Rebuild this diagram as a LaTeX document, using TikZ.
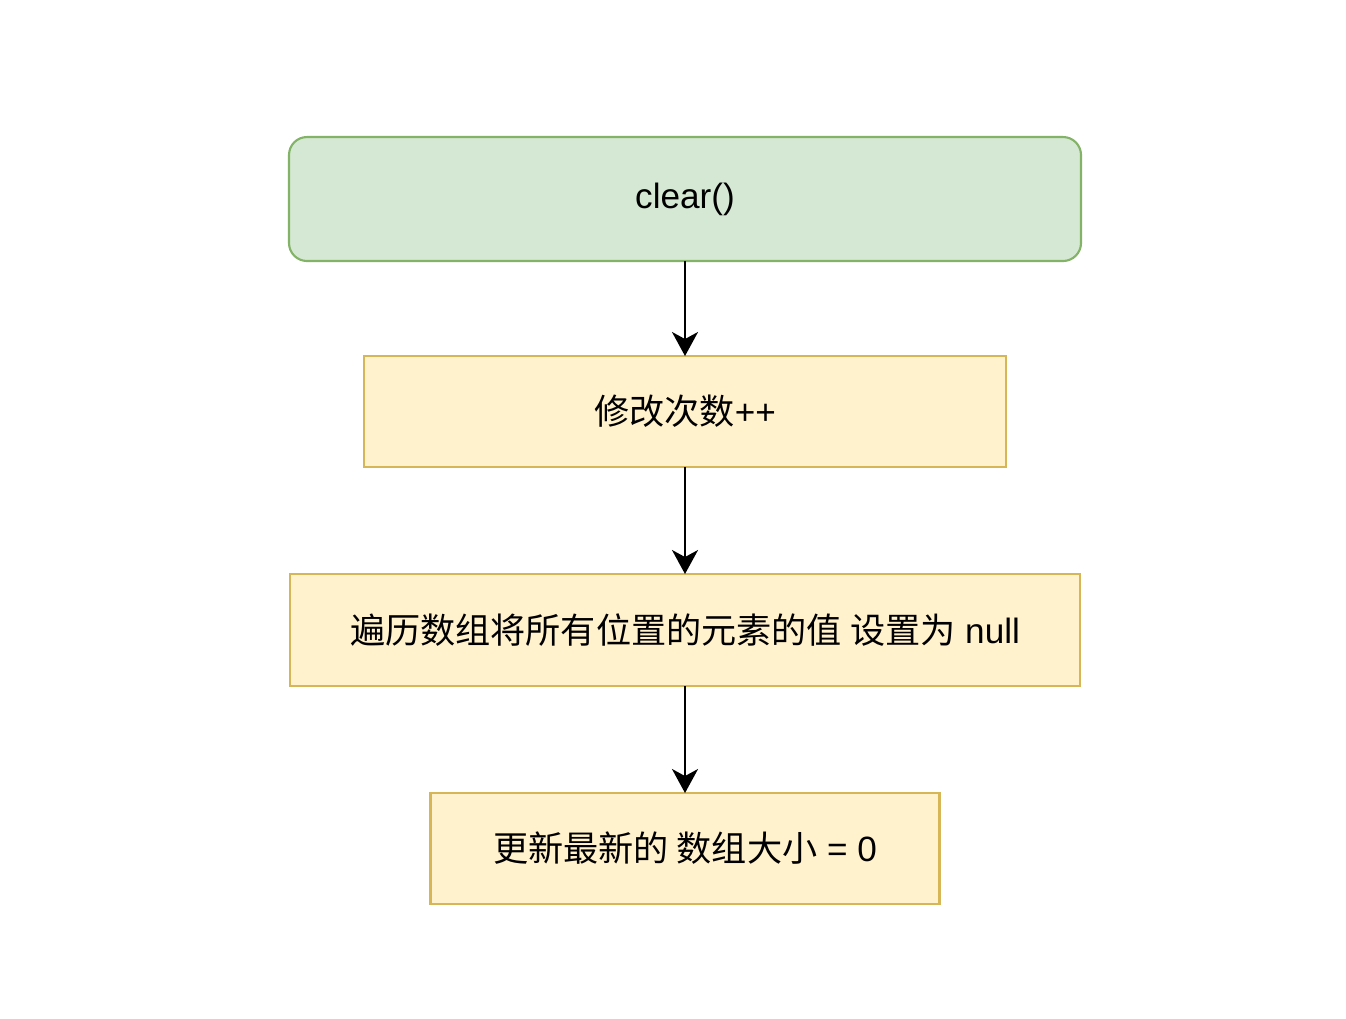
\documentclass[tikz,border=0pt]{standalone}
\usepackage{fontspec}
\setmainfont{Liberation Sans}
\newfontfamily\cjk{Noto Sans CJK SC}
\usetikzlibrary{positioning,arrows.meta}
\definecolor{greenfill}{HTML}{D5E8D4}
\definecolor{greenline}{HTML}{82B366}
\definecolor{yellowfill}{HTML}{FFF2CC}
\definecolor{yellowline}{HTML}{D6B656}
\begin{document}
\begin{tikzpicture}[box/.style={draw=yellowline, fill=yellowfill, line width=0.6pt, outer sep=0pt, minimum height=1.11cm, font=\fontsize{10}{12}\selectfont},
  startbox/.style={box, draw=greenline, fill=greenfill, rounded corners=0.18cm, minimum height=1.24cm},
  flow/.style={draw, line width=0.6pt, -{Stealth[length=0.24cm, width=0.26cm, inset=0.07cm]}}]
\useasboundingbox (0,0) rectangle (13.46,-10.18);
\node [startbox, minimum width=7.92cm] (clear) at (6.85,-1.99) {clear()};
\node [box, minimum width=6.42cm, below=0.95cm of clear] (modcount) {{\cjk 修改次数}++};
\node [box, minimum width=7.90cm, minimum height=1.12cm, below=1.07cm of modcount] (loop) {{\cjk 遍历数组将所有位置的元素的值 设置为} null};
\node [box, minimum width=5.09cm, below=1.07cm of loop] (size) {{\cjk 更新最新的 数组大小} = 0};
\path [flow] (clear) -- (modcount);
\path [flow] (modcount) -- (loop);
\path [flow] (loop) -- (size);
\end{tikzpicture}
\end{document}
